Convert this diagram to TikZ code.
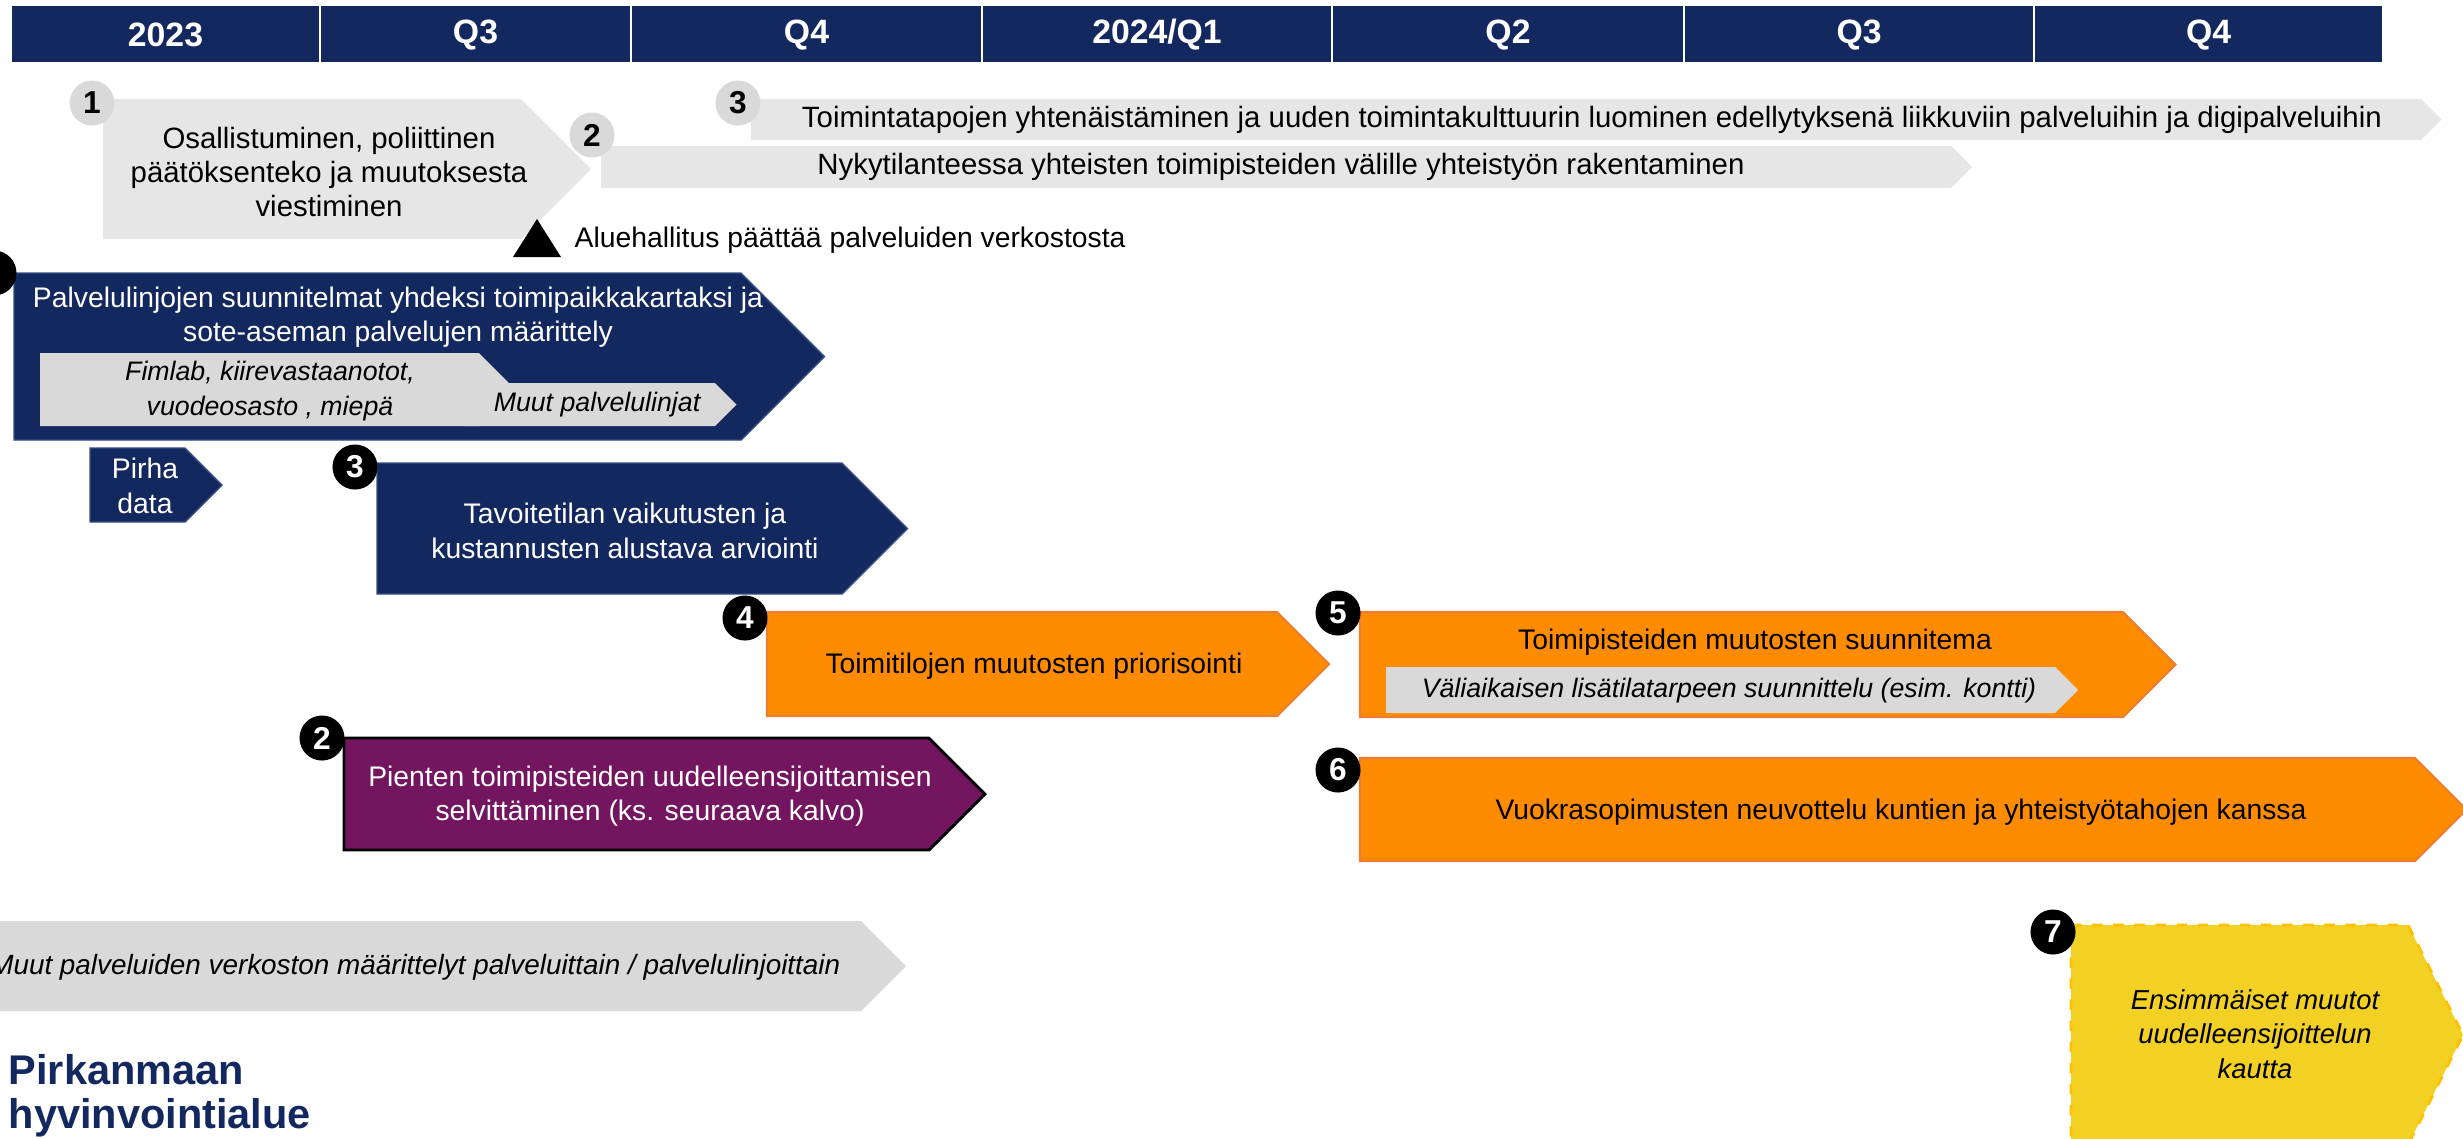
\documentclass[tikz,border=0pt]{standalone}
\usepackage{fontspec}
\setmainfont{Liberation Sans}
\definecolor{pnavy}{RGB}{19,40,94}
\definecolor{pnavyline}{RGB}{52,78,132}
\definecolor{pgrayA}{RGB}{230,230,230}
\definecolor{pgrayB}{RGB}{217,217,217}
\definecolor{porange}{RGB}{255,140,0}
\definecolor{porangeline}{RGB}{237,125,49}
\definecolor{ppurple}{RGB}{115,21,95}
\definecolor{pyellow}{RGB}{242,208,36}
\definecolor{pgold}{RGB}{255,192,0}
% chevron: style, left, top, straight end, bottom
\newcommand{\chev}[5]{\path[#1] (#2,#3) -- (#4,#3) -- ({#4+(#5-#3)/2},{(#3+#5)/2}) -- (#4,#5) -- (#2,#5) -- cycle;}
\newcommand{\badgesize}{0.45cm}

\begin{document}
\begin{tikzpicture}[x=0.01cm,y=-0.01cm,
  hdr/.style={text=white,font=\fontsize{9.6}{11}\selectfont\bfseries},
  txt/.style={align=center,inner sep=0pt,font=\fontsize{8.05}{9.8}\selectfont},
  toptxt/.style={txt,font=\fontsize{8.35}{9.8}\selectfont},
  wtxt/.style={txt,text=white},
  itxt/.style={align=center,inner sep=0pt,font=\fontsize{7.6}{9.8}\selectfont\itshape},
  gnum/.style={circle,fill=pgrayB,minimum size=\badgesize,inner sep=0pt,font=\fontsize{9}{9}\selectfont\bfseries},
  knum/.style={gnum,fill=black,text=white},
  grayA/.style={fill=pgrayA},
  grayB/.style={fill=pgrayB},
  navybox/.style={fill=pnavy,draw=pnavyline,line width=0.4pt},
  orangebox/.style={fill=porange,draw=porangeline,line width=0.6pt},
  purplebox/.style={fill=ppurple,draw=black,line width=0.8pt}]

\useasboundingbox (0,0) rectangle (2463,1138);

% timeline header
\foreach \xa/\xb/\lab [count=\i] in {11/320/2023, 320/631/Q3, 631/982/Q4, 982/1332/{2024/Q1},
    1332/1684/Q2, 1684/2034/Q3, 2034/2383/Q4} {
  \path[fill=pnavy,draw=white,line width=0.7pt] (\xa,5) rectangle (\xb,63);
  \node (h\i) at ({(\xa+\xb)/2},35) [hdr] {\lab};
}

% light grey rows at the top
\chev{grayA}{103}{99}{521}{239}
\chev{grayA}{751}{99}{2421}{140}
\chev{grayA}{601}{146}{1951}{188}
\node (t1) at (329,172) [toptxt] {Osallistuminen, poliittinen\\päätöksenteko ja muutoksesta\\viestiminen};
\node (t3) at (1592,120) [toptxt] {Toimintatapojen yhtenäistäminen ja uuden toimintakulttuurin luominen edellytyksenä liikkuviin palveluihin ja digipalveluihin};
\node (t2) at (1281,167) [toptxt] {Nykytilanteessa yhteisten toimipisteiden välille yhteistyön rakentaminen};
\node (g1) at (92,103) [gnum] {1};
\node (g2) at (592,135) [gnum] {2};
\node (g3) at (738,103) [gnum] {3};

% milestone
\fill (513,257) -- (561,257) -- (537,219) -- cycle;
\node (ms) at (574,240) [txt,anchor=west] {Aluehallitus päättää palveluiden verkostosta};

% service lines
\chev{navybox}{14}{273}{741}{440}
\node (k1) at (-6,273) [knum] {};
\node (pl) at (398,317) [wtxt] {Palvelulinjojen suunnitelmat yhdeksi toimipaikkakartaksi ja\\sote-aseman palvelujen määrittely};
\chev{grayB}{40}{353}{479}{426}
\chev{grayB}{464}{383}{715}{426}
\node (fim) at (270,391) [itxt] {Fimlab, kiirevastaanotot,\\vuodeosasto , miepä};
\node (muut) at (597,405) [itxt] {Muut palvelulinjat};

\chev{navybox}{90}{448}{185}{522}
\node (pirha) at (145,486) [wtxt] {Pirha\\data};

\chev{navybox}{377}{463}{842}{594}
\node (tav) at (625,531) [wtxt] {Tavoitetilan vaikutusten ja\\kustannusten alustava arviointi};
\node (k3) at (355,467) [knum] {3};

% premises
\chev{orangebox}{767}{612}{1277}{716}
\node (prio) at (1034,666) [txt] {Toimitilojen muutosten priorisointi};
\node (k4) at (745,618) [knum] {4};

\chev{orangebox}{1360}{612}{2123}{717}
\node (suun) at (1755,642) [txt] {Toimipisteiden muutosten suunnitema};
\chev{grayB}{1386}{667}{2055}{713}
\node (vali) at (1729,691) [itxt] {Väliaikaisen lisätilatarpeen suunnittelu (esim. kontti)};
\node (k5) at (1338,613) [knum] {5};

\chev{orangebox}{1360}{758}{2415}{861}
\node (vuok) at (1901,812) [txt] {Vuokrasopimusten neuvottelu kuntien ja yhteistyötahojen kanssa};
\node (k6) at (1338,770) [knum] {6};

\chev{purplebox}{344}{738}{929}{850}
\node (pien) at (650,796) [wtxt] {Pienten toimipisteiden uudelleensijoittamisen\\selvittäminen (ks. seuraava kalvo)};
\node (k2) at (322,738) [knum] {2};

\chev{grayB}{-60}{921}{861}{1011}
\node (muut2) at (841,967) [itxt,anchor=east,font=\fontsize{7.92}{9.8}\selectfont\itshape] {Muut palveluiden verkoston määrittelyt palveluittain / palvelulinjoittain};

% first moves
\path[fill=pyellow,draw=pgold,dashed,line width=0.8pt] (2071,925) -- (2408,925) -- (2463,1035) -- (2408,1145) -- (2071,1145) -- cycle;
\node (ens) at (2255,1034) [itxt,font=\fontsize{7.8}{9.8}\selectfont\itshape] {Ensimmäiset muutot\\uudelleensijoittelun\\kautta};
\node (k7) at (2053,932) [knum] {7};

\node (logo) at (8,1096) [anchor=west,align=left,inner sep=0pt,text=pnavy,
  font=\fontsize{11.8}{12.5}\selectfont\bfseries] {Pirkanmaan\\hyvinvointialue};

\end{tikzpicture}
\end{document}
